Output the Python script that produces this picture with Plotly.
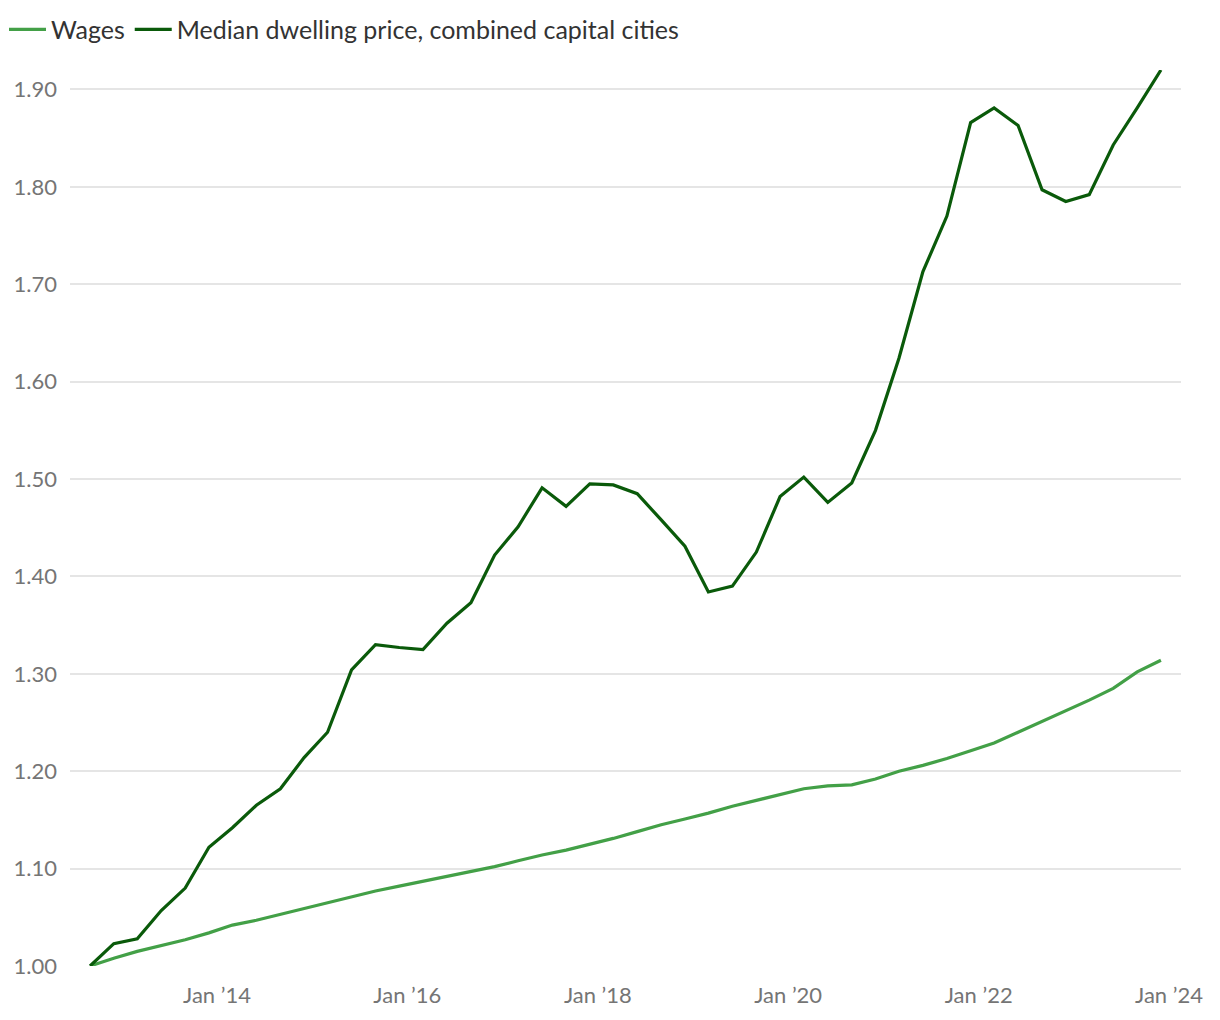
import pandas as pd
import plotly.graph_objects as go

# quarterly observations, Sep 2012 to Dec 2023, indexed to 1.00
dates = pd.date_range("2012-09-01", periods=46, freq="3MS")

wages = [
    1.000, 1.008, 1.015, 1.021, 1.027, 1.034, 1.042, 1.047, 1.053, 1.059,
    1.065, 1.071, 1.077, 1.082, 1.087, 1.092, 1.097, 1.102, 1.108, 1.114,
    1.119, 1.125, 1.131, 1.138, 1.145, 1.151, 1.157, 1.164, 1.170, 1.176,
    1.182, 1.185, 1.186, 1.192, 1.200, 1.206, 1.213, 1.221, 1.229, 1.240,
    1.251, 1.262, 1.273, 1.285, 1.302, 1.314,
]

dwelling_price = [
    1.000, 1.023, 1.028, 1.057, 1.080, 1.122, 1.142, 1.165, 1.182, 1.214,
    1.240, 1.304, 1.330, 1.327, 1.325, 1.352, 1.373, 1.422, 1.451, 1.491,
    1.472, 1.495, 1.494, 1.485, 1.458, 1.431, 1.384, 1.390, 1.425, 1.482,
    1.502, 1.476, 1.496, 1.550, 1.624, 1.713, 1.770, 1.866, 1.881, 1.863,
    1.797, 1.785, 1.792, 1.843, 1.881, 1.920,
]

x_tickvals = ["2014-01-01", "2016-01-01", "2018-01-01", "2020-01-01", "2022-01-01", "2024-01-01"]
x_ticktext = ["Jan ’14", "Jan ’16", "Jan ’18", "Jan ’20", "Jan ’22", "Jan ’24"]
y_tickvals = [1.0, 1.1, 1.2, 1.3, 1.4, 1.5, 1.6, 1.7, 1.8, 1.9]

fig = go.Figure()
fig.add_trace(go.Scatter(
    x=dates, y=wages, name="Wages", mode="lines",
    line=dict(color="#43a047", width=3.2),
))
fig.add_trace(go.Scatter(
    x=dates, y=dwelling_price, name="Median dwelling price, combined capital cities",
    mode="lines", line=dict(color="#0a5a0a", width=3.2),
))

# page body has an 8px margin, so the figure is sized to fit the window
fig.update_layout(
    width=1204, height=1004,
    margin=dict(l=62, r=31, t=62, b=46, autoexpand=False),
    paper_bgcolor="white", plot_bgcolor="white",
    font=dict(family="Lato, sans-serif", color="#333333"),
    showlegend=True,
    legend=dict(
        orientation="h", x=-0.0594, xanchor="left", y=1.0708, yanchor="top",
        font=dict(size=25, color="#333333"), itemwidth=37,
        traceorder="normal",
    ),
)
fig.update_xaxes(
    range=["2012-06-16", "2024-02-16"],
    tickvals=x_tickvals, ticktext=x_ticktext,
    showgrid=False, showline=False, zeroline=False, ticks="",
    ticklabelstandoff=14,
    tickfont=dict(size=22, color="#757575"), automargin=False,
)
fig.update_yaxes(
    range=[1.0, 1.92],
    tickvals=y_tickvals, tickformat=".2f",
    showgrid=True, gridcolor="#e5e5e5", gridwidth=1.5,
    showline=False, zeroline=False, ticks="", ticklabelstandoff=12,
    tickfont=dict(size=22, color="#757575"), automargin=False,
)

fig.write_html("out.html")
